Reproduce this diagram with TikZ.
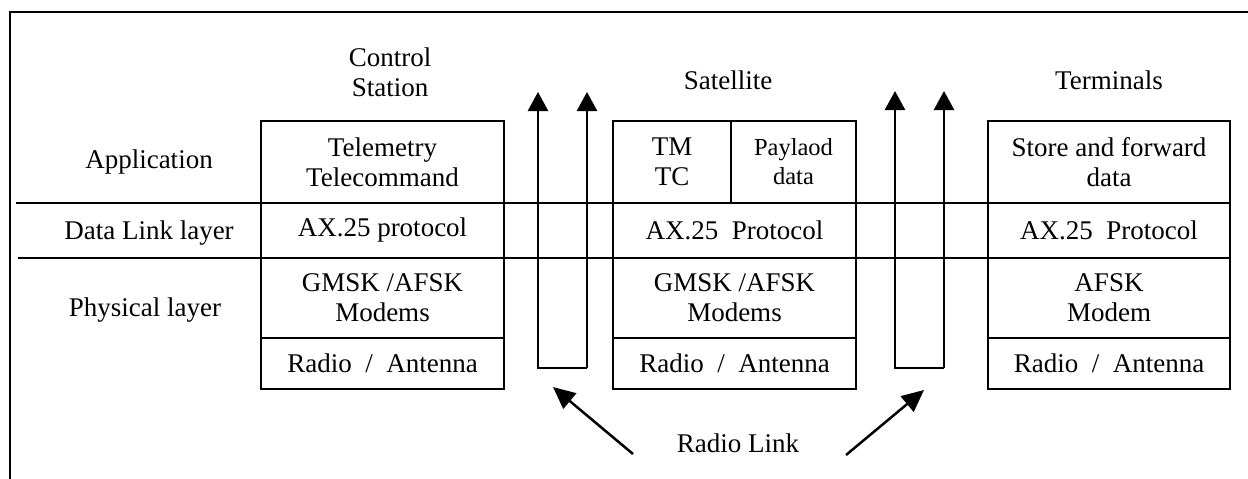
\documentclass[tikz,border=0pt]{standalone}
\usepackage{fontspec}
\setmainfont{Liberation Serif}
\usetikzlibrary{arrows.meta}
\begin{document}
\begin{tikzpicture}[x=1pt,y=-1pt,
  every node/.style={font=\fontsize{27}{30}\selectfont, align=center, inner sep=0pt},
  cell/.style={draw, line width=2.8pt, minimum width=243pt},
  lbl/.style={},
  line/.style={line width=2.8pt},
  uparrow/.style={line width=2.5pt, -{Triangle[width=20pt,length=19pt]}},
  diag/.style={line width=2.5pt, -{Triangle[width=20pt,length=22pt]}}]
\useasboundingbox (0,0) rectangle (1248,479);
% frame
\draw[line] (10,479) -- (10,12) -- (1248,12);
% layer lines
\coordinate (l1a) at (16,203); \coordinate (l1b) at (1230,203);
\coordinate (l2a) at (18,258); \coordinate (l2b) at (1230,258);
\draw[line] (l1a) -- (l1b);
\draw[line] (l2a) -- (l2b);
% left labels
\node[lbl] (app) at (149,162) {Application};
\node[lbl] (dll) at (149,233) {Data Link layer};
\node[lbl] (phy) at (145,310) {Physical layer};
% headers
\node (hcs) at (390,72) {Control\\Station};
\node (hsat) at (728,80) {Satellite};
\node (hterm) at (1109,80) {Terminals};
% control station
\node[cell, minimum height=82pt] (csapp) at (382.5,162) {Telemetry\\Telecommand};
\node[cell, minimum height=55pt] (csdl) at (382.5,230.5) {AX.25 protocol};
\node[cell, minimum height=80pt] (csph) at (382.5,298) {GMSK /AFSK\\Modems};
\node[cell, minimum height=51pt] (csra) at (382.5,363.5) {Radio \ / \ Antenna};
% satellite
\node[cell, minimum width=118pt, minimum height=82pt] (sattm) at (672,162) {TM\\TC};
\node[cell, minimum width=125pt, minimum height=82pt, font=\fontsize{24.5}{29}\selectfont] (satpl) at (793.5,162) {Paylaod\\data};
\node[cell, minimum height=55pt] (satdl) at (734.5,230.5) {AX.25\ \ Protocol};
\node[cell, minimum height=80pt] (satph) at (734.5,298) {GMSK /AFSK\\Modems};
\node[cell, minimum height=51pt] (satra) at (734.5,363.5) {Radio \ / \ Antenna};
% terminals
\node[cell, minimum width=242pt, minimum height=82pt] (tapp) at (1109,162) {Store and forward\\data};
\node[cell, minimum width=242pt, minimum height=55pt] (tdl) at (1109,230.5) {AX.25\ \ Protocol};
\node[cell, minimum width=242pt, minimum height=80pt] (tph) at (1109,298) {AFSK\\Modem};
\node[cell, minimum width=242pt, minimum height=51pt] (tra) at (1109,363.5) {Radio \ / \ Antenna};
% U arrows left
\coordinate (a1t) at (538,92); \coordinate (a1b) at (538,368);
\coordinate (a2t) at (587,92); \coordinate (a2b) at (587,368);
\draw[uparrow] (a2b) -- (a2t);
\draw[uparrow] (a2b) -- (a1b) -- (a1t);
% U arrows right
\coordinate (b1t) at (895,91); \coordinate (b1b) at (895,368);
\coordinate (b2t) at (944,91); \coordinate (b2b) at (944,368);
\draw[uparrow] (b2b) -- (b2t);
\draw[uparrow] (b2b) -- (b1b) -- (b1t);
% radio link
\node (rl) at (738,443) {Radio Link};
\coordinate (d1s) at (633,454); \coordinate (d1e) at (553,387);
\coordinate (d2s) at (846,455); \coordinate (d2e) at (924,390);
\draw[diag] (d1s) -- (d1e);
\draw[diag] (d2s) -- (d2e);
\end{tikzpicture}
\end{document}
